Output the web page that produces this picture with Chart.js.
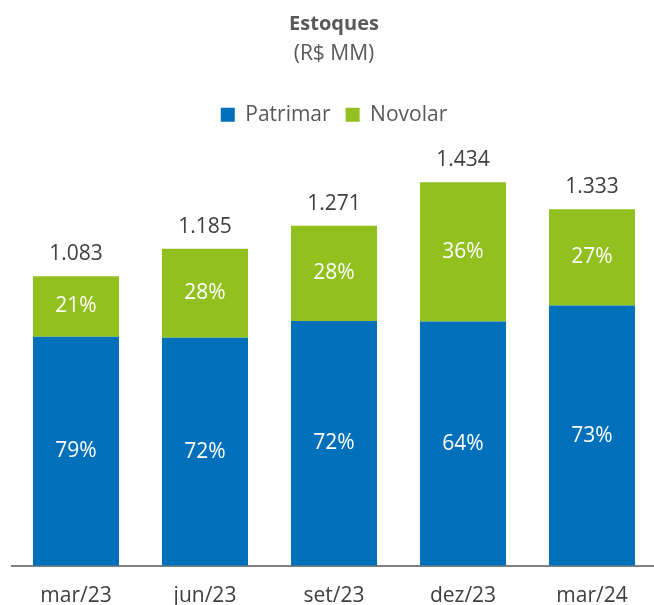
<!DOCTYPE html>
<html>
<head>
<meta charset="utf-8">
<script src="https://cdn.jsdelivr.net/npm/chart.js@4.4.0/dist/chart.umd.min.js"></script>
<style>
  html, body { margin: 0; padding: 0; background: #fff; overflow: hidden; }
  #wrap { width: 660px; height: 605px; position: relative; }
</style>
</head>
<body>
<div id="wrap"><canvas id="chart"></canvas></div>
<script>
const categories = ["mar/23", "jun/23", "set/23", "dez/23", "mar/24"];
const patrimar = [856, 853, 915, 913, 973];
const novolar = [227, 332, 356, 521, 360];
const totalLabels = ["1.083", "1.185", "1.271", "1.434", "1.333"];
const patrimarPct = ["79%", "72%", "72%", "64%", "73%"];
const novolarPct = ["21%", "28%", "28%", "36%", "27%"];

const BLUE = "#0070ba";
const GREEN = "#92c01f";
const FONT = "'Open Sans', sans-serif";

const barLabels = {
  id: "barLabels",
  afterDatasetsDraw(chart) {
    const ctx = chart.ctx;
    ctx.save();
    ctx.font = `21px ${FONT}`;
    ctx.textAlign = "center";
    ctx.textBaseline = "middle";
    const pcts = [patrimarPct, novolarPct];
    chart.data.datasets.forEach((ds, di) => {
      const meta = chart.getDatasetMeta(di);
      meta.data.forEach((bar, i) => {
        ctx.fillStyle = "#ffffff";
        ctx.fillText(pcts[di][i], bar.x, (bar.y + bar.base) / 2);
        if (di === chart.data.datasets.length - 1) {
          ctx.fillStyle = "#404040";
          ctx.fillText(totalLabels[i], bar.x, bar.y - 22);
        }
      });
    });
    ctx.restore();
  },
};

new Chart(document.getElementById("chart"), {
  type: "bar",
  data: {
    labels: categories,
    datasets: [
      { label: "Patrimar", data: patrimar, backgroundColor: BLUE },
      { label: "Novolar", data: novolar, backgroundColor: GREEN },
    ],
  },
  options: {
    responsive: true,
    maintainAspectRatio: false,
    animation: false,
    layout: { padding: { left: 11.5, right: 3.5, top: 0, bottom: -22 } },
    datasets: { bar: { barPercentage: 0.667, categoryPercentage: 1 } },
    plugins: {
      title: {
        display: true, text: "Estoques", color: "#595959",
        font: { family: FONT, size: 20, weight: "bold", lineHeight: 1.2 },
        padding: { top: 12, bottom: 0 },
      },
      subtitle: {
        display: true, text: "(R$ MM)", color: "#595959",
        font: { family: FONT, size: 21, lineHeight: 1.2 },
        padding: { top: 5, bottom: 23 },
      },
      legend: {
        display: true,
        labels: {
          color: "#595959", boxWidth: 14, boxHeight: 14, padding: 15,
          font: { family: FONT, size: 21 },
        },
      },
      tooltip: { enabled: false },
    },
    scales: {
      x: {
        stacked: true,
        grid: { display: false, drawTicks: false },
        border: { display: true, color: "#808080", width: 2 },
        ticks: { color: "#404040", padding: 18, font: { family: FONT, size: 21 } },
      },
      y: {
        stacked: true,
        display: false,
        min: 0,
        max: 1610,
      },
    },
  },
  plugins: [barLabels],
});
</script>
</body>
</html>
